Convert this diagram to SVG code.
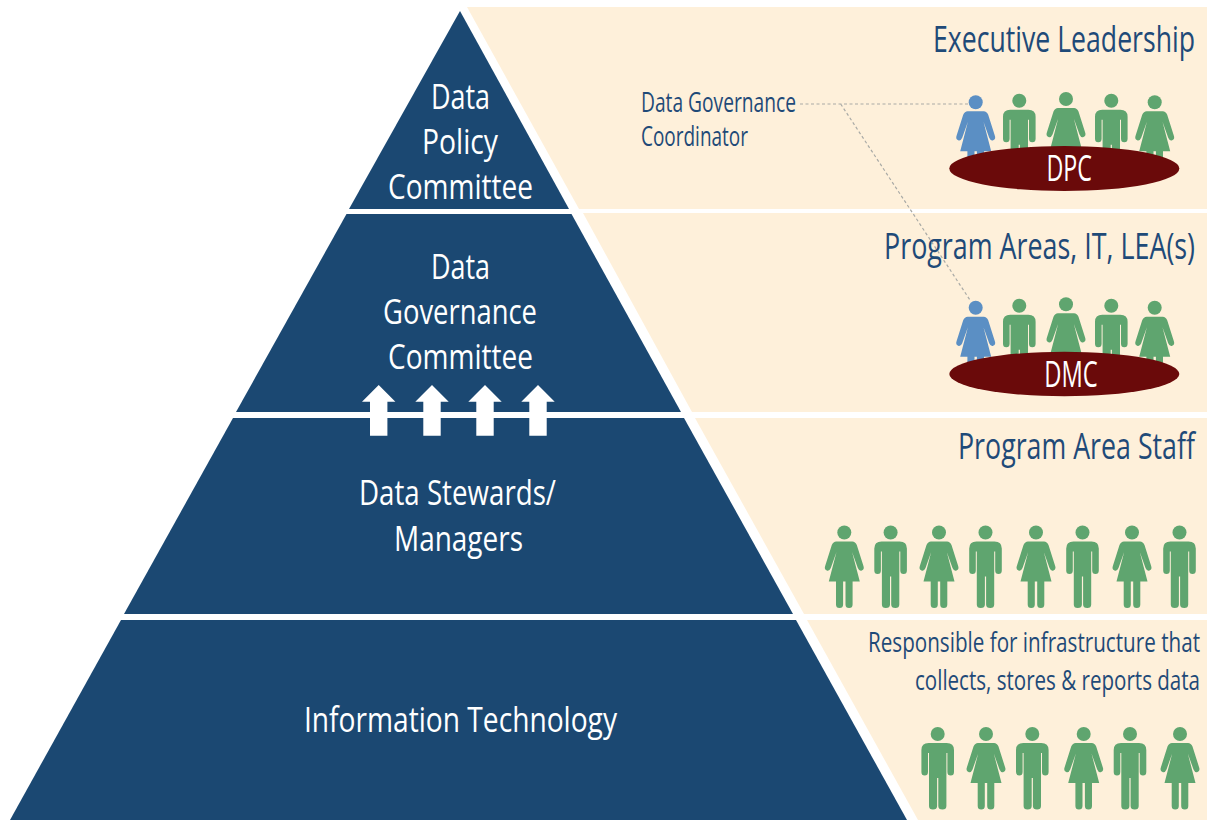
<svg xmlns="http://www.w3.org/2000/svg" xmlns:xlink="http://www.w3.org/1999/xlink" width="1211" height="820" viewBox="0 0 1211 820">
<style>
text{font-family:"Open Sans","Noto Sans","Liberation Sans",sans-serif}
.w{fill:#fff;font-size:35.500px}
.b{fill:#1f4a78;font-size:37px}
.s{fill:#1f4a78;font-size:27px}
.c{fill:#fff;font-size:36px}
.tier{fill:#1b4872}
.panel{fill:#fef0da}
.table{fill:#6a0a0a}
.g{fill:#5fa56f}
.u{fill:#5b8fc4}
.conn{fill:none;stroke:#a9aaa6;stroke-width:1.2;stroke-dasharray:3 2.5}
</style>
<defs>
<g id="woman">
<circle cx="0" cy="0" r="7"/>
<path d="M-8 9H8Q11 9 12.500 12.500L19 33Q20.500 37 17.500 38Q15 39 13.500 35.500L7.800 19.500L15.500 49H8.300V72Q8.300 75.500 4.800 75.500Q1.200 75.500 1.200 72V49H-1.200V72Q-1.200 75.500 -4.800 75.500Q-8.300 75.500 -8.300 72V49H-15.500L-7.800 19.500L-13.500 35.500Q-15 39 -17.500 38Q-20.500 37 -19 33L-12.500 12.500Q-11 9 -8 9Z"/>
</g>
<g id="man">
<circle cx="0" cy="0" r="7"/>
<path d="M-9 9H9Q16.300 9 16.300 16V38Q16.300 41.500 13 41.500Q9.700 41.500 9.700 38V19H8.700V72Q8.700 75.500 4.800 75.500Q0.600 75.500 0.600 72V44H-0.600V72Q-0.600 75.500 -4.800 75.500Q-8.700 75.500 -8.700 72V19H-9.700V38Q-9.700 41.500 -13 41.500Q-16.300 41.500 -16.300 38V16Q-16.300 9 -9 9Z"/>
</g>
<path id="arrow" d="M0 0L16.700 16.700H8.700V50.700H-8.700V16.700H-16.700Z" fill="#fff"/>
</defs>
<rect width="1211" height="820" fill="#fff"/>
<g id="panels">
<path class="panel" d="M467 7H1207V209H579Z"/>
<path class="panel" d="M583 213H1207V412H692Z"/>
<path class="panel" d="M695 418H1207V614H804Z"/>
<path class="panel" d="M807 620H1207V820H918Z"/>
</g>
<g id="tier-dpc">
<path class="tier" d="M460 11L569 209H349Z"/>
<text class="w" x="431" y="108.500" textLength="59" lengthAdjust="spacingAndGlyphs">Data</text>
<text class="w" x="422" y="153.500" textLength="76" lengthAdjust="spacingAndGlyphs">Policy</text>
<text class="w" x="388" y="199" textLength="145" lengthAdjust="spacingAndGlyphs">Committee</text>
</g>
<g id="tier-dgc">
<path class="tier" d="M346.500 214H571.500L681 412H236Z"/>
<text class="w" x="431" y="278.500" textLength="59" lengthAdjust="spacingAndGlyphs">Data</text>
<text class="w" x="383" y="323.500" textLength="154" lengthAdjust="spacingAndGlyphs">Governance</text>
<text class="w" x="388" y="369" textLength="145" lengthAdjust="spacingAndGlyphs">Committee</text>
</g>
<g id="tier-stewards">
<path class="tier" d="M233 418H684L793 614H124Z"/>
<text class="w" x="359" y="504.500" textLength="197" lengthAdjust="spacingAndGlyphs">Data Stewards/</text>
<text class="w" x="394" y="550.500" textLength="129" lengthAdjust="spacingAndGlyphs">Managers</text>
</g>
<g id="tier-it">
<path class="tier" d="M121 620H796L907 820H10Z"/>
<text class="w" x="304" y="731.500" textLength="313" lengthAdjust="spacingAndGlyphs">Information Technology</text>
</g>
<g id="arrows">
<use xlink:href="#arrow" href="#arrow" x="378.700" y="385"/>
<use xlink:href="#arrow" href="#arrow" x="432" y="385"/>
<use xlink:href="#arrow" href="#arrow" x="485" y="385"/>
<use xlink:href="#arrow" href="#arrow" x="538" y="385"/>
</g>
<g id="labels">
<text class="b" transform="translate(933 52) scale(.7 1)" textLength="374.300" lengthAdjust="spacingAndGlyphs">Executive Leadership</text>
<text class="b" transform="translate(884 259) scale(.65 1)" textLength="478.500" lengthAdjust="spacingAndGlyphs">Program Areas, IT, LEA(s)</text>
<text class="b" transform="translate(958 459) scale(.67 1)" textLength="353.700" lengthAdjust="spacingAndGlyphs">Program Area Staff</text>
<text class="s" transform="translate(868 651.500) scale(.7 1)" textLength="474.300" lengthAdjust="spacingAndGlyphs">Responsible for infrastructure that</text>
<text class="s" transform="translate(915 689.500) scale(.68 1)" textLength="419.100" lengthAdjust="spacingAndGlyphs">collects, stores &amp; reports data</text>
<text class="s" x="641" y="111.500" textLength="155" lengthAdjust="spacingAndGlyphs">Data Governance</text>
<text class="s" x="641" y="145.500" textLength="107" lengthAdjust="spacingAndGlyphs">Coordinator</text>
</g>
<g id="connectors">
<path class="conn" d="M800 104H968M840.700 104L970 300"/>
</g>
<g id="dpc-group">
<use xlink:href="#woman" href="#woman" class="u" x="975.700" y="102.300"/>
<use xlink:href="#man" href="#man" class="g" x="1019.300" y="100.700"/>
<use xlink:href="#woman" href="#woman" class="g" x="1066" y="99"/>
<use xlink:href="#man" href="#man" class="g" x="1111.300" y="100.700"/>
<use xlink:href="#woman" href="#woman" class="g" x="1154.700" y="102.300"/>
<ellipse class="table" cx="1064.300" cy="168.500" rx="115" ry="22.500"/>
<text class="c" x="1046.500" y="181" textLength="45.500" lengthAdjust="spacingAndGlyphs">DPC</text>
</g>
<g id="dmc-group">
<use xlink:href="#woman" href="#woman" class="u" x="975.700" y="307.700"/>
<use xlink:href="#man" href="#man" class="g" x="1019.300" y="305.700"/>
<use xlink:href="#woman" href="#woman" class="g" x="1066" y="304.300"/>
<use xlink:href="#man" href="#man" class="g" x="1111.300" y="305.700"/>
<use xlink:href="#woman" href="#woman" class="g" x="1154.700" y="307.700"/>
<ellipse class="table" cx="1064.300" cy="374" rx="115" ry="22.300"/>
<text class="c" x="1044.300" y="387" textLength="53.500" lengthAdjust="spacingAndGlyphs">DMC</text>
</g>
<g id="staff-group">
<use xlink:href="#woman" href="#woman" class="g" x="844.300" y="532.500"/>
<use xlink:href="#man" href="#man" class="g" x="890.600" y="532.500"/>
<use xlink:href="#woman" href="#woman" class="g" x="939" y="532.500"/>
<use xlink:href="#man" href="#man" class="g" x="985.500" y="532.500"/>
<use xlink:href="#woman" href="#woman" class="g" x="1036" y="532.500"/>
<use xlink:href="#man" href="#man" class="g" x="1082.500" y="532.500"/>
<use xlink:href="#woman" href="#woman" class="g" x="1132" y="532.500"/>
<use xlink:href="#man" href="#man" class="g" x="1179.500" y="532.500"/>
</g>
<g id="it-group">
<use xlink:href="#man" href="#man" class="g" x="937.700" y="734"/>
<use xlink:href="#woman" href="#woman" class="g" x="986" y="734"/>
<use xlink:href="#man" href="#man" class="g" x="1032.300" y="734"/>
<use xlink:href="#woman" href="#woman" class="g" x="1083.700" y="734"/>
<use xlink:href="#man" href="#man" class="g" x="1130" y="734"/>
<use xlink:href="#woman" href="#woman" class="g" x="1180" y="734"/>
</g>
</svg>
